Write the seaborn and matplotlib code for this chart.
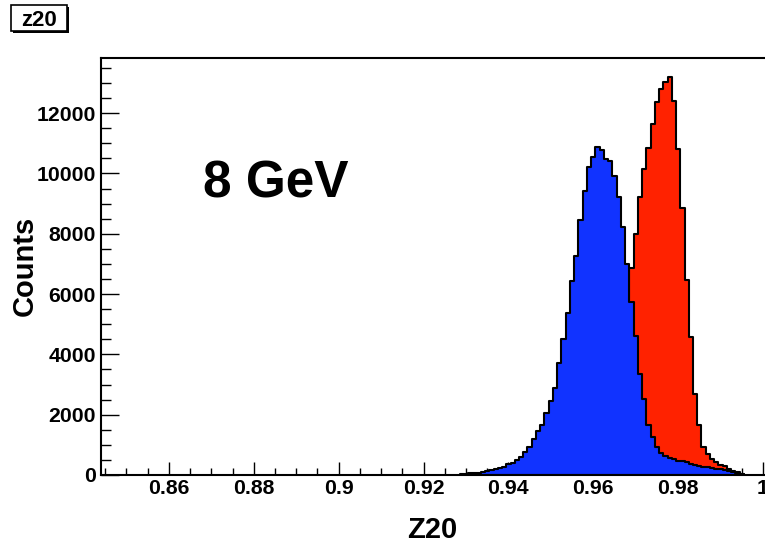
import numpy as np
import pandas as pd
import matplotlib
matplotlib.use("Agg")
import matplotlib.pyplot as plt
import seaborn as sns
from matplotlib.patches import Rectangle

# histogram contents, 0.001 wide bins, first bin centre given
bin_width = 0.001
blue_first = 0.929
blue_counts = [20, 40, 55, 70, 80, 100, 120, 160, 200, 235,
               280, 350, 410, 510, 610, 770, 920, 1210, 1460, 1650,
               2040, 2450, 2880, 3700, 4500, 5360, 6450, 7260, 8460, 9430,
               10200, 10560, 10870, 10780, 10490, 10420, 9930, 9210, 8240, 7000,
               5745, 4620, 3363, 2536, 1654, 1250, 930, 730, 620, 560,
               520, 480, 450, 420, 380, 340, 310, 270, 250, 230,
               210, 190, 160, 140, 100, 70, 30]
red_first = 0.956
red_counts = [20, 50, 100, 180, 300, 480, 750, 1150, 1700, 2400,
              3300, 4400, 5600, 6870, 7990, 9230, 10160, 10860, 11640, 12370,
              12810, 13030, 13190, 12400, 10800, 8840, 6480, 4576, 2701, 1654,
              937, 695, 529, 441, 331, 287, 198, 143, 88, 40]

x_ticks = [0.86, 0.88, 0.90, 0.92, 0.94, 0.96, 0.98, 1.00]
x_tick_labels = ["0.86", "0.88", "0.9", "0.92", "0.94", "0.96", "0.98", "1"]
y_ticks = [0, 2000, 4000, 6000, 8000, 10000, 12000]
y_tick_labels = ["0", "2000", "4000", "6000", "8000", "10000", "12000"]


def to_frame(first, counts):
    centers = np.round(first + bin_width * np.arange(len(counts)), 4)
    return pd.DataFrame({"z20": centers, "counts": counts})


def range_of(df):
    return (float(df["z20"].iloc[0]) - bin_width / 2, float(df["z20"].iloc[-1]) + bin_width / 2)


blue = to_frame(blue_first, blue_counts)
red = to_frame(red_first, red_counts)

sns.set_style("ticks")
plt.rcParams['font.family'] = ['Liberation Sans', 'DejaVu Sans']
plt.rcParams['font.weight'] = 'bold'
for key in ["text.color", "axes.labelcolor", "xtick.color", "ytick.color", "axes.edgecolor"]:
    plt.rcParams[key] = "black"

W, H = 765, 545
fig = plt.figure(figsize=(W / 100, H / 100), dpi=100)
ax = fig.add_axes([101 / W, 70 / H, 679 / W, 417 / H])

# red first, blue drawn on top of it
sns.histplot(data=red, x="z20", weights="counts", binwidth=bin_width, binrange=range_of(red),
             element="step", fill=True, color="#ff2200", alpha=1, edgecolor="black",
             linewidth=1.5, ax=ax)
sns.histplot(data=blue, x="z20", weights="counts", binwidth=bin_width, binrange=range_of(blue),
             element="step", fill=True, color="#1133ff", alpha=1, edgecolor="black",
             linewidth=1.5, ax=ax)

ax.set_xlim(0.844, 1.004)
ax.set_ylim(0, 13830)
ax.set_xlabel("")
ax.set_ylabel("")

ax.set_xticks(x_ticks)
ax.set_xticklabels(x_tick_labels)
ax.set_xticks(np.arange(0.845, 1.0005, 0.005), minor=True)
ax.set_yticks(y_ticks)
ax.set_yticklabels(y_tick_labels)
ax.set_yticks(np.arange(0, 14000, 500), minor=True)

ax.tick_params(axis="x", which="major", direction="in", length=9.5, width=1, labelsize=15.3, pad=3)
ax.tick_params(axis="x", which="minor", direction="in", length=5, width=1)
ax.tick_params(axis="y", which="major", direction="in", length=13, width=1, labelsize=15.3, pad=3.6)
ax.tick_params(axis="y", which="minor", direction="in", length=7, width=1)
for side in ["left", "bottom", "top", "right"]:
    ax.spines[side].set_linewidth(1.5)

# axis titles and annotation
fig.text(33 / W, 1 - 266 / H, "Counts", rotation=90, ha="center", va="baseline",
         rotation_mode="anchor", fontsize=21, fontweight="bold")
fig.text(432 / W, 1 - 538 / H, "Z20", ha="center", va="baseline", fontsize=21, fontweight="bold")
fig.text(203 / W, 1 - 198 / H, "8 GeV", ha="left", va="baseline", fontsize=37, fontweight="bold")
fig.text(441 / W, 1 - 0.5 / H, "Z20", ha="center", va="baseline", fontsize=21, fontweight="bold")

# ROOT style name box with shadow
fig.add_artist(Rectangle((13 / W, 1 - 33 / H), 56 / W, 26 / H, transform=fig.transFigure,
                         facecolor="black", edgecolor="none"))
fig.add_artist(Rectangle((11 / W, 1 - 31 / H), 56 / W, 26 / H, transform=fig.transFigure,
                         facecolor="white", edgecolor="black", linewidth=1.2))
fig.text(39 / W, 1 - 26 / H, "z20", ha="center", va="baseline", fontsize=16, fontweight="bold")

fig.savefig("out.png", dpi=100)
